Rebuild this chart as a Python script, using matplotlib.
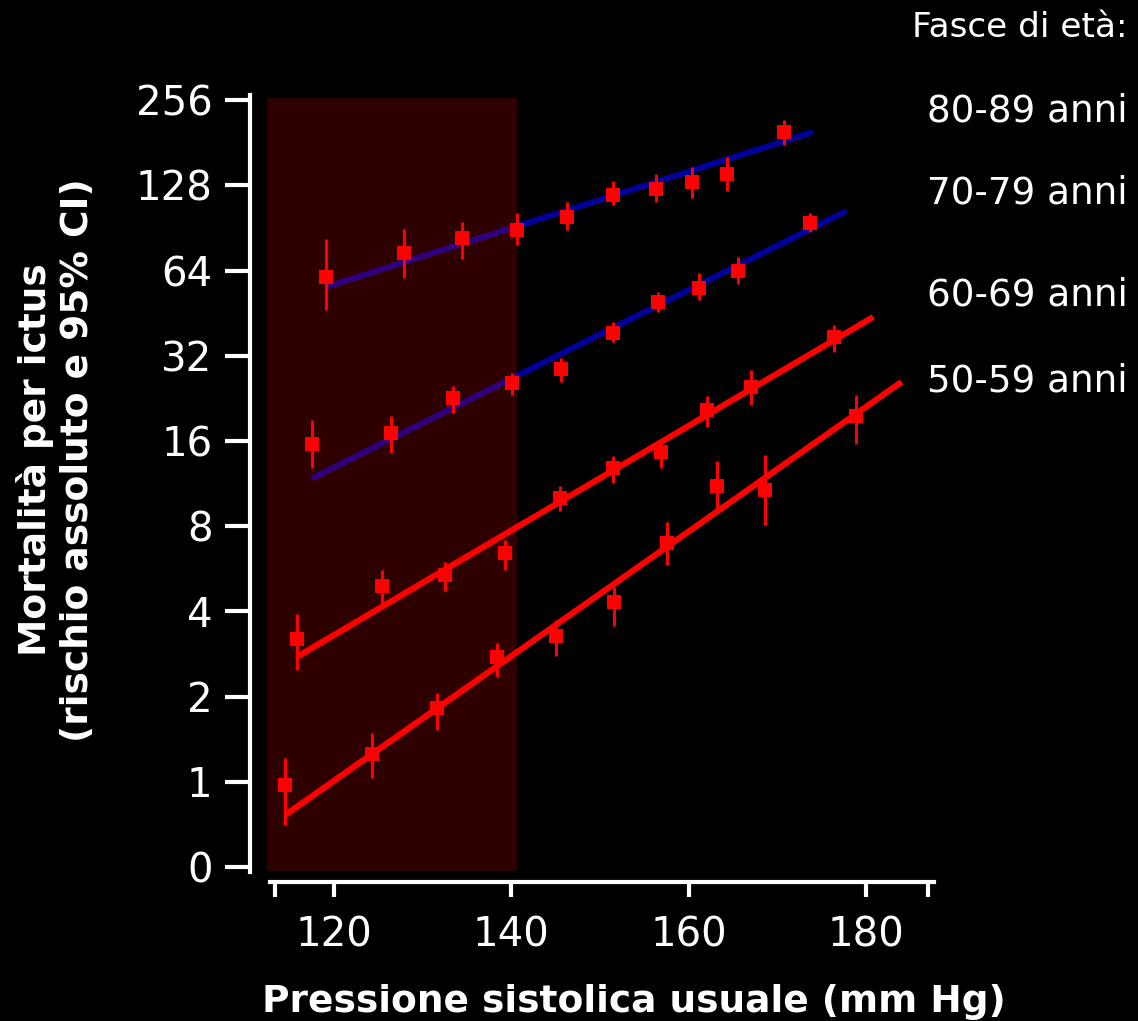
import matplotlib
matplotlib.use('Agg')
import matplotlib.pyplot as plt

# systolic blood pressure (mm Hg), stroke mortality and 95% CI per age band
sbp_80 = [119.1, 127.9, 134.4, 140.6, 146.3, 151.5, 156.3, 160.4, 164.3, 170.7]
risk_80 = [60.8, 73.9, 83.5, 89.0, 99.0, 118.4, 124.3, 131.6, 140.5, 197.7]
lo_80 = [46.5, 60.3, 70.4, 78.8, 89.0, 109.2, 111.9, 115.5, 122.3, 177.8]
hi_80 = [82.8, 89.8, 95.0, 102.3, 111.9, 132.7, 140.5, 148.7, 161.3, 218.0]
fit_x_80 = [119.1, 174.0]
fit_y_80 = [56.0, 197.7]

sbp_70 = [117.5, 126.4, 133.4, 140.1, 145.6, 151.5, 156.5, 161.1, 165.5, 173.7]
risk_70 = [15.6, 17.1, 22.7, 25.6, 28.7, 38.5, 49.6, 55.6, 63.8, 94.3]
lo_70 = [12.8, 14.5, 20.1, 23.3, 25.8, 35.8, 45.7, 50.4, 57.4, 87.6]
hi_70 = [19.0, 19.6, 25.0, 27.8, 31.4, 42.1, 53.8, 62.8, 71.5, 102.3]
fit_x_70 = [117.5, 177.8]
fit_y_70 = [11.8, 104.0]

sbp_60 = [115.8, 125.4, 132.5, 139.3, 145.5, 151.5, 156.9, 162.1, 167.0, 176.4]
risk_60 = [3.20, 4.92, 5.38, 6.43, 10.06, 12.8, 14.6, 20.6, 24.8, 37.3]
lo_60 = [2.48, 4.28, 4.72, 5.60, 9.05, 11.4, 12.8, 17.9, 21.4, 33.0]
hi_60 = [3.92, 5.60, 5.98, 7.15, 11.1, 14.2, 16.1, 23.1, 28.5, 41.1]
fit_x_60 = [115.8, 180.8]
fit_y_60 = [2.76, 43.9]

sbp_50 = [114.5, 124.3, 131.6, 138.4, 145.0, 151.6, 157.5, 163.2, 168.6, 178.8]
risk_50 = [0.974, 1.25, 1.82, 2.76, 3.27, 4.32, 6.98, 11.1, 10.7, 19.6]
lo_50 = [0.705, 1.03, 1.52, 2.35, 2.78, 3.55, 5.84, 9.28, 8.08, 15.6]
hi_50 = [1.21, 1.49, 2.06, 3.09, 3.73, 4.88, 8.28, 13.6, 14.3, 23.3]
fit_x_50 = [114.5, 184.0]
fit_y_50 = [0.763, 25.9]

age_labels = ['80-89 anni', '70-79 anni', '60-69 anni', '50-59 anni']
y_ticks = [0.5, 1, 2, 4, 8, 16, 32, 64, 128, 256]
y_tick_labels = ['0', '1', '2', '4', '8', '16', '32', '64', '128', '256']
x_ticks = [120, 140, 160, 180]

BLUE = '#000099'
RED = '#ff0000'
groups = [
    (sbp_80, risk_80, lo_80, hi_80, fit_x_80, fit_y_80, BLUE),
    (sbp_70, risk_70, lo_70, hi_70, fit_x_70, fit_y_70, BLUE),
    (sbp_60, risk_60, lo_60, hi_60, fit_x_60, fit_y_60, RED),
    (sbp_50, risk_50, lo_50, hi_50, fit_x_50, fit_y_50, RED),
]

W, H = 1138, 1021
fig = plt.figure(figsize=(W / 100, H / 100), dpi=100, facecolor='black')
ax = fig.add_axes([267 / W, 1 - 871 / H, 668 / W, 773 / H])
ax.set_facecolor('black')

for x, y, lo, hi, fx, fy, col in groups:
    ax.plot(fx, fy, color=col, lw=4.4, solid_capstyle='butt', zorder=2)
    err = [[v - l for v, l in zip(y, lo)], [h - v for v, h in zip(y, hi)]]
    ax.errorbar(x, y, yerr=err, fmt='s', color=RED, ms=10, mew=0,
                elinewidth=2.2, capsize=0, zorder=3)

# shaded "normal" range drawn over the data
ax.axvspan(112.45, 140.6, color=RED, alpha=0.19, lw=0, zorder=5)

ax.set_yscale('log', base=2)
ax.set_xlim(112.45, 187.76)
ax.set_ylim(0.4841, 260.7)
ax.set_yticks(y_ticks)
ax.set_yticklabels(y_tick_labels)
ax.minorticks_off()
ax.set_xticks(x_ticks)
ax.set_xticks([113.35, 186.97], minor=True)

for s in ['top', 'right']:
    ax.spines[s].set_visible(False)
ax.spines['left'].set_position(('outward', 12.2))
ax.spines['bottom'].set_position(('outward', 7.9))
ax.spines['left'].set_bounds(0.48, 266.7)
ax.spines['bottom'].set_bounds(112.8, 187.6)
for s in ['left', 'bottom']:
    ax.spines[s].set_color('white')
    ax.spines[s].set_linewidth(3.0)

ax.tick_params(axis='y', colors='white', length=18, width=3.0,
               labelsize=29, pad=9)
ax.tick_params(axis='x', which='both', colors='white', length=10.8,
               width=3.0, labelsize=29, pad=13)

fig.text(634 / W, 1 - 1012 / H, 'Pressione sistolica usuale (mm Hg)',
         color='white', fontsize=27, fontweight='bold',
         ha='center', va='baseline')
fig.text(56 / W, 1 - 460 / H,
         'Mortalità per ictus\n(rischio assoluto e 95% CI)',
         color='white', fontsize=27, fontweight='bold', rotation=90,
         ha='center', va='center', multialignment='center')

fig.text(1128 / W, 1 - 37 / H, 'Fasce di età:', color='white',
         fontsize=24.7, ha='right', va='baseline')
for lab, base in zip(age_labels, [122, 204, 306, 392]):
    fig.text(1128 / W, 1 - base / H, lab, color='white', fontsize=26.8,
             ha='right', va='baseline')

fig.savefig('out.png', dpi=100, facecolor='black')
